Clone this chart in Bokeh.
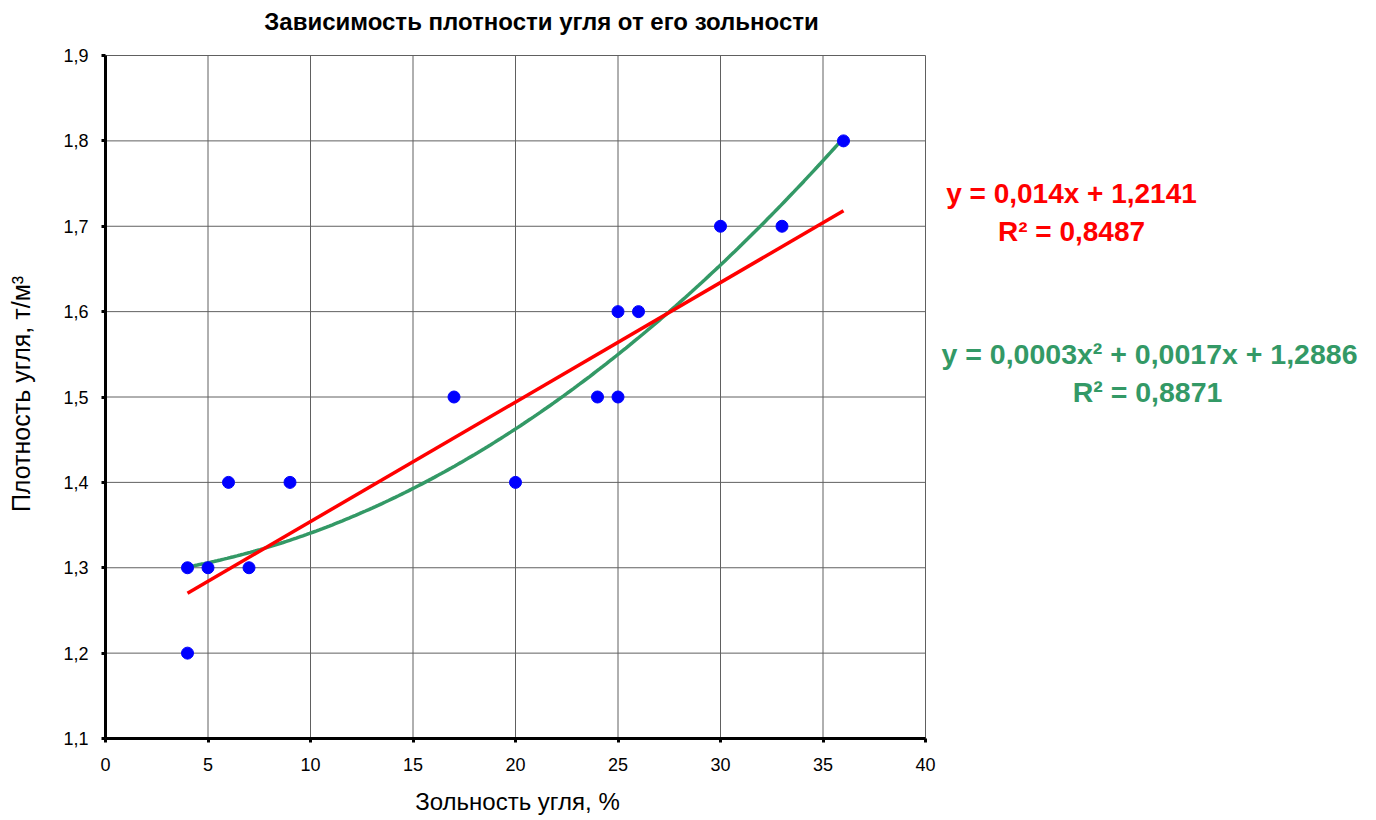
from bokeh.plotting import figure
from bokeh.models import FixedTicker, Label
from bokeh.embed import file_html
from bokeh.resources import INLINE
import numpy as np

# Data
ash_pct = [4, 4, 5, 6, 7, 9, 17, 20, 24, 25, 25, 26, 30, 33, 36]
density = [1.3, 1.2, 1.3, 1.4, 1.3, 1.4, 1.5, 1.4, 1.5, 1.6, 1.5, 1.6, 1.7, 1.7, 1.8]

# Trend lines (linear and polynomial), as drawn
lin_coef = [0.014, 1.2141]             # slope, intercept
poly_coef = [0.00035, 0.0017, 1.2886]  # a2, a1, a0
trend_range = [4, 36]

x_ticks = [0, 5, 10, 15, 20, 25, 30, 35, 40]
y_ticks = [1.1, 1.2, 1.3, 1.4, 1.5, 1.6, 1.7, 1.8, 1.9]

title_text = "Зависимость плотности угля от его зольности"
x_label = "Зольность угля, %"
y_label = "Плотность угля,  т/м³"
lin_eq = ["y = 0,014x + 1,2141", "R² = 0,8487"]
poly_eq = ["y = 0,0003x² + 0,0017x + 1,2886", "R² = 0,8871"]

FONT = "Liberation Sans"
GREEN = "#339966"
W, H = 1368, 818
LEFT_PX, BOTTOM_PX = 105, 738   # page position of the (0, 1.1) corner
PX_X = 820 / 40                 # pixels per x unit
PX_Y = 683 / 0.8                # pixels per y unit

x_start = x_ticks[0] - LEFT_PX / PX_X
x_end = x_ticks[0] + (W - LEFT_PX) / PX_X
y_start = y_ticks[0] - (H - BOTTOM_PX) / PX_Y
y_end = y_ticks[0] + BOTTOM_PX / PX_Y

p = figure(width=W, height=H, output_backend="svg", toolbar_location=None,
           x_range=(x_start, x_end), y_range=(y_start, y_end), min_border=0)
p.background_fill_color = "white"
p.border_fill_color = "white"
p.outline_line_color = None
p.xgrid.visible = False
p.ygrid.visible = False

for ax in (p.xaxis[0], p.yaxis[0]):
    ax.axis_line_width = 3
    ax.axis_line_color = "black"
    ax.major_tick_line_width = 3
    ax.major_tick_line_color = "black"
    ax.major_tick_out = 4
    ax.major_tick_in = 0
    ax.minor_tick_line_color = None
    ax.major_label_text_font = FONT
    ax.major_label_text_font_size = "18px"
    ax.major_label_text_color = "black"

p.xaxis.fixed_location = y_ticks[0]
p.yaxis.fixed_location = x_ticks[0]
p.xaxis.bounds = (x_ticks[0], x_ticks[-1])
p.yaxis.bounds = (y_ticks[0], y_ticks[-1])
p.xaxis.ticker = FixedTicker(ticks=x_ticks)
p.yaxis.ticker = FixedTicker(ticks=y_ticks)
p.xaxis.major_label_overrides = {t: str(t) for t in x_ticks}
p.yaxis.major_label_overrides = {t: f"{t:.1f}".replace(".", ",") for t in y_ticks}
p.xaxis.major_label_standoff = 15
p.yaxis.major_label_standoff = 13

# grid lines limited to the plot area
GRID = "#606060"
p.segment(x0=x_ticks, y0=[y_ticks[0]] * len(x_ticks), x1=x_ticks, y1=[y_ticks[-1]] * len(x_ticks),
          line_color=GRID, line_width=1, level="underlay")
p.segment(x0=[x_ticks[0]] * len(y_ticks), y0=y_ticks, x1=[x_ticks[-1]] * len(y_ticks), y1=y_ticks,
          line_color=GRID, line_width=1, level="underlay")

# trend lines
xs = np.linspace(trend_range[0], trend_range[1], 200)
poly_y = poly_coef[0] * xs**2 + poly_coef[1] * xs + poly_coef[2]
p.line(xs, poly_y, line_color=GREEN, line_width=3.5)
lin_x = np.array(trend_range, dtype=float)
lin_y = lin_coef[0] * lin_x + lin_coef[1]
p.line(lin_x, lin_y, line_color="#FF0000", line_width=3.5)

# points
p.scatter(ash_pct, density, size=12, fill_color="#0000FF", line_color="#0000FF")

def to_data(px, py):
    return x_ticks[0] + (px - LEFT_PX) / PX_X, y_ticks[0] + (BOTTOM_PX - py) / PX_Y

texts = [
    (title_text, 541, 21, "black", "24px", "bold", 0),
    (x_label, 517, 801, "black", "24px", "normal", 0),
    (y_label, 20, 390, "black", "25px", "normal", np.pi / 2),
    (lin_eq[0], 1071, 193, "#FF0000", "28px", "bold", 0),
    (lin_eq[1], 1071, 231, "#FF0000", "28px", "bold", 0),
    (poly_eq[0], 1149, 353, GREEN, "28.5px", "bold", 0),
    (poly_eq[1], 1147, 391, GREEN, "28.5px", "bold", 0),
]
for txt, px, py, col, fs, style, ang in texts:
    dx, dy = to_data(px, py)
    p.add_layout(Label(x=dx, y=dy, text=txt, text_font=FONT, text_font_size=fs,
                       text_font_style=style, text_align="center", angle=ang,
                       text_baseline="middle", text_color=col))

open("out.html", "w").write(file_html(p, INLINE))
